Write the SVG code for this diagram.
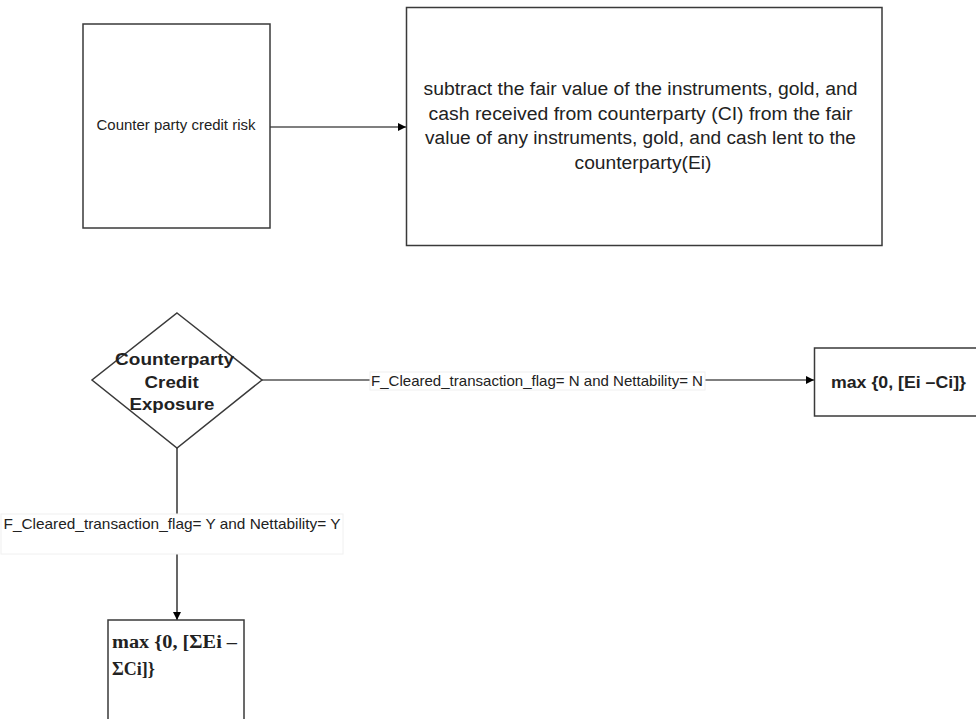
<svg xmlns="http://www.w3.org/2000/svg" width="976" height="719" viewBox="0 0 976 719">
<style>
  .box { fill: #ffffff; stroke: #3a3a3a; stroke-width: 1.5; }
  .edge { fill: none; stroke: #000000; stroke-width: 1.2; }
  .lbl { fill: #ffffff; stroke: #f0f0f0; stroke-width: 1; }
  .arial { font-family: "Liberation Sans", Arial, sans-serif; fill: #222222; }
  .cal { font-family: "Liberation Sans", "Open Sans", sans-serif; fill: #222222; }
  .calb { font-family: "Liberation Sans", "Open Sans", sans-serif; font-weight: bold; fill: #222222; }
  .timesb { font-family: "Liberation Serif", "Times New Roman", serif; font-weight: bold; fill: #222222; }
</style>
<defs>
  <marker id="arr" viewBox="0 0 10 10" refX="10" refY="5" markerWidth="9" markerHeight="8" markerUnits="userSpaceOnUse" orient="auto">
    <path d="M0,0 L10,5 L0,10 Z" fill="#000000"/>
  </marker>
</defs>
<rect width="976" height="719" fill="#ffffff"/>

<g id="connectors">
  <line class="edge" x1="270" y1="127" x2="406" y2="127" marker-end="url(#arr)"/>
  <line class="edge" x1="262" y1="380" x2="814" y2="380" marker-end="url(#arr)"/>
  <line class="edge" x1="177" y1="448" x2="177" y2="620" marker-end="url(#arr)"/>
  <g id="label-n">
    <rect class="lbl" x="370" y="372" width="335" height="18"/>
    <text class="arial" x="371" y="385.5" font-size="15" textLength="332" lengthAdjust="spacingAndGlyphs">F_Cleared_transaction_flag= N and Nettability= N</text>
  </g>
  <g id="label-y">
    <rect class="lbl" x="1" y="514" width="342" height="40"/>
    <text class="arial" x="3.5" y="529" font-size="15" textLength="337" lengthAdjust="spacingAndGlyphs">F_Cleared_transaction_flag= Y and Nettability= Y</text>
  </g>
</g>

<g id="node-risk">
  <rect class="box" x="83" y="24" width="187" height="204"/>
  <text class="arial" x="176" y="130" font-size="15" text-anchor="middle" textLength="159" lengthAdjust="spacingAndGlyphs">Counter party credit risk</text>
</g>

<g id="node-subtract">
  <rect class="box" x="406.5" y="7.5" width="475.5" height="238"/>
  <text class="cal" font-size="18" text-anchor="middle">
    <tspan x="643" y="95" textLength="434" lengthAdjust="spacingAndGlyphs">subtract the fair value of the instruments, gold, and</tspan>
    <tspan x="643" y="119.5" textLength="424" lengthAdjust="spacingAndGlyphs">cash received  from counterparty (CI) from the fair</tspan>
    <tspan x="643" y="144" textLength="431" lengthAdjust="spacingAndGlyphs">value of any instruments, gold, and cash lent to the</tspan>
    <tspan x="643" y="169" textLength="137" lengthAdjust="spacingAndGlyphs">counterparty(Ei)</tspan>
  </text>
</g>

<g id="node-exposure">
  <polygon class="box" points="177,313 262,380 177,448 92,380"/>
  <text class="calb" font-size="17" text-anchor="middle">
    <tspan x="177" y="365" textLength="119" lengthAdjust="spacingAndGlyphs">Counterparty</tspan>
    <tspan x="174" y="387.5" textLength="54" lengthAdjust="spacingAndGlyphs">Credit</tspan>
    <tspan x="172" y="410" textLength="85" lengthAdjust="spacingAndGlyphs">Exposure</tspan>
  </text>
</g>

<g id="node-max-single">
  <rect class="box" x="814.5" y="348" width="165" height="68"/>
  <text class="calb" x="831" y="388" font-size="17" textLength="135" lengthAdjust="spacingAndGlyphs">max {0, [Ei –Ci]}</text>
</g>

<g id="node-max-sum">
  <rect class="box" x="108" y="620" width="136" height="120"/>
  <text class="timesb" font-size="18">
    <tspan x="112" y="648" textLength="125" lengthAdjust="spacingAndGlyphs">max {0, [ΣEi –</tspan>
    <tspan x="112" y="675">ΣCi]}</tspan>
  </text>
</g>
</svg>
